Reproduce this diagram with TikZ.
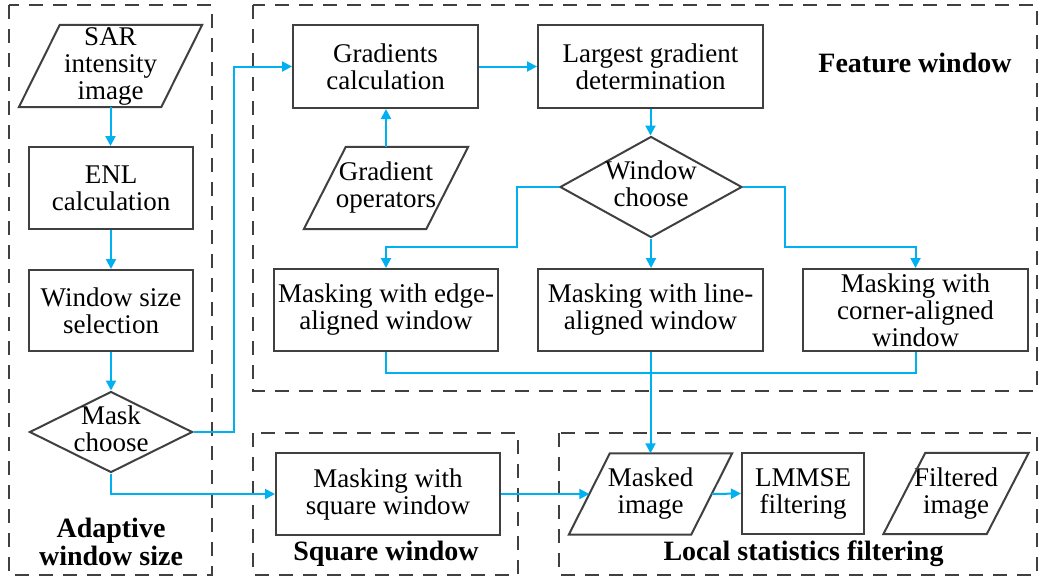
\documentclass[tikz,border=0pt]{standalone}
\usepackage{fontspec}
\setmainfont{LiberationSerif}[Extension=.ttf, UprightFont=*-Regular, BoldFont=*-Bold, ItalicFont=*-Italic, BoldItalicFont=*-BoldItalic]
\usetikzlibrary{arrows.meta,shapes.geometric,calc}
\definecolor{flowblue}{RGB}{0,176,240}
\definecolor{boxgray}{RGB}{64,64,64}
\newcommand{\drawpara}[2]{\draw[outl] ([xshift=-#2]#1.south west) -- ([xshift=-#2]#1.south east) -- ([xshift=#2]#1.north east) -- ([xshift=#2]#1.north west) -- cycle;}
\begin{document}
\begin{tikzpicture}[x=1pt,y=-1pt,
  txt/.style={font=\fontsize{27pt}{27pt}\selectfont, align=center, inner sep=0pt, text=black},
  outl/.style={draw=boxgray, line width=2pt},
  proc/.style={txt, outl, rectangle, minimum height=82pt},
  para/.style={txt, rectangle, minimum height=82pt},
  dia/.style={outl, diamond, inner sep=0pt},
  grp/.style={draw=boxgray, line width=2pt, dash pattern=on 14pt off 10pt},
  flow/.style={draw=flowblue, line width=2pt, -{Triangle[length=10pt,width=10pt]}},
  link/.style={draw=flowblue, line width=2pt},
  lab/.style={font=\bfseries\fontsize{28pt}{28pt}\selectfont, align=center, inner sep=0pt, text=black}
]
\useasboundingbox (0,0) rectangle (1043,579);
% group frames
\draw[grp] (9,5) rectangle (212,575);
\draw[grp] (253,5) rectangle (1037,391);
\draw[grp] (253,433) rectangle (518,575);
\draw[grp] (559,433) rectangle (1037,575);
% adaptive window size
\node[para, minimum width=142pt] (sar) at (110.5,66) {SAR\\intensity\\image};
\drawpara{sar}{20.5pt}
\node[proc, minimum width=164pt] (enl) at (111,188) {ENL\\calculation};
\node[proc, minimum width=164pt, minimum height=81pt] (wss) at (111,310.5) {Window size\\selection};
\node[dia, minimum width=163pt, minimum height=81pt] (mask) at (111,432) {};
\node[txt] (masktxt) at ([yshift=3pt]mask.center) {Mask\\choose};
% feature window
\node[proc, minimum width=185pt, minimum height=83pt] (gc) at (385.5,66.5) {Gradients\\calculation};
\node[proc, minimum width=225pt, minimum height=83pt] (lgd) at (650.5,66.5) {Largest gradient\\determination};
\node[para, minimum width=122pt] (gop) at (386,188) {Gradient\\operators};
\drawpara{gop}{21pt}
\node[dia, minimum width=182pt, minimum height=101pt] (wc) at (651,187) {};
\node[txt] (wctxt) at ([yshift=3pt]wc.center) {Window\\choose};
\node[proc, minimum width=224pt] (medge) at (386,310) {Masking with edge-\\aligned window};
\node[proc, minimum width=225pt] (mline) at (650.5,310) {Masking with line-\\aligned window};
\node[proc, minimum width=225pt] (mcorner) at (915.5,310) {Masking with\\corner-aligned\\window};
% square window
\node[proc, minimum width=224pt] (msq) at (388,494) {Masking with\\square window};
% local statistics filtering
\node[para, minimum width=122pt, minimum height=81pt] (masked) at (650.5,494) {Masked\\image};
\drawpara{masked}{20.5pt}
\node[proc, minimum width=122pt, minimum height=81pt] (lmmse) at (803,493.5) {LMMSE\\filtering};
\node[para, minimum width=103pt, minimum height=81pt] (filt) at (956,493.5) {Filtered\\image};
\drawpara{filt}{21pt}
% group labels
\node[lab] (aws) at (111,541.5) {Adaptive\\window size};
\node[lab, anchor=base] (fw) at (915,72) {Feature window};
\node[lab, anchor=base] (sw) at (386,560) {Square window};
\node[lab, anchor=base] (lsf) at (803.5,560) {Local statistics filtering};
% connectors
\draw[flow] (sar.south) -- (sar.south |- enl.north);
\draw[flow] (enl.south) -- (wss.north);
\draw[flow] (wss.south) -- (mask.north);
\draw[flow] (mask.east) -- ++(40.5,0) |- (gc.west);
\draw[flow] (mask.south) |- (msq.west);
\draw[flow] (gc.east) -- (lgd.west);
\draw[flow] (gop.north) -- (gop.north |- gc.south);
\draw[flow] (lgd.south) -- (lgd.south |- wc.north);
\draw[flow] (wc.west) -- ++(-42,0) |- ([yshift=21pt]medge.north) -- (medge.north);
\draw[flow] (wc.south) -- (wc.south |- mline.north);
\draw[flow] (wc.east) -- ++(42,0) |- ([yshift=21pt]mcorner.north) -- (mcorner.north);
\draw[link] (medge.south) |- ([yshift=-21pt]mcorner.south) -- (mcorner.south);
\draw[flow] (mline.south) -- (masked.north);
\draw[flow] (msq.east) -- (masked.west);
\draw[flow] (masked.east) -- (lmmse.west);
\end{tikzpicture}
\end{document}
